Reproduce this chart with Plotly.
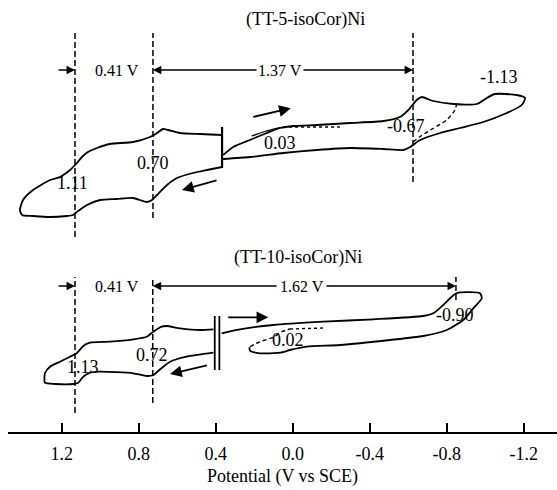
import plotly.graph_objects as go

# ---------------- data (potential in V, current in arbitrary units, offset per CV) -------------
# (TT-5-isoCor)Ni : oxidation loop (positive potentials)
top_ox_E = [0.367, 0.482, 0.585, 0.648, 0.674, 0.705, 0.741, 0.830, 0.950, 1.017, 1.064, 1.095,
            1.121, 1.157, 1.209, 1.261, 1.349, 1.401, 1.417, 1.406,
            1.349, 1.261, 1.173, 1.142, 1.121, 1.069, 1.001, 0.913, 0.830, 0.757, 0.731, 0.705,
            0.653, 0.601, 0.518, 0.445, 0.367]
top_ox_i = [297, 298, 299, 302, 303, 299, 295, 290, 288, 284, 280, 275,
            269, 262, 255, 252, 242, 232, 222, 217,
            216, 215, 216, 217, 220, 227, 232, 233, 234, 230, 232, 237,
            247, 254, 259, 262, 265]
# reduction loop (negative potentials)
top_red_E = [0.361, 0.309, 0.222, 0.135, 0.066, -0.003, -0.125, -0.298, -0.471, -0.557, -0.601,
             -0.644, -0.670, -0.730, -0.834, -0.956, -1.008, -1.051, -1.164, -1.207,
             -1.190, -1.112, -0.990, -0.869, -0.766, -0.662, -0.610, -0.575, -0.471, -0.298,
             -0.125, 0.049, 0.222, 0.364]
top_red_i = [277, 285, 292, 299, 304, 306, 307, 309, 311, 315, 322,
             332, 335, 331, 328, 328, 334, 338, 337, 334,
             327, 319, 310, 304, 299, 292, 285, 282, 283, 284,
             282, 279, 275, 273]
top_part_solid_E = [0.213, 0.144, 0.066]
top_part_solid_i = [296, 300.5, 304.3]
top_part_dot_E = [0.050, -0.245]
top_part_dot_i = [305, 305]
top_rev_E = [-0.852, -0.843, -0.800, -0.730, -0.661, -0.627]
top_rev_i = [328.7, 322, 312, 303.7, 295.3, 290.3]
top_peak_E = [1.131, 0.726, -0.625]
top_peak_lo = [195, 214, 250]
top_peak_hi = [400, 399, 399]
top_bar_E = [0.367]
top_bar_lo, top_bar_hi = 264, 305

# (TT-10-isoCor)Ni
bot_ox_E = [0.412, 0.482, 0.585, 0.655, 0.681, 0.724, 0.758, 0.828, 0.949, 1.053, 1.088, 1.122,
            1.157, 1.209, 1.261, 1.287, 1.287,
            1.235, 1.140, 1.114, 1.088, 1.053, 1.001, 0.828, 0.758, 0.724, 0.689, 0.637,
            0.551, 0.412]
bot_ox_i = [102.7, 102, 103.7, 106, 105.3, 100.3, 95.3, 92.7, 90.3, 89.3, 86, 78.7,
            75.3, 70.3, 65.3, 58.7, 49.3,
            48, 48, 49.3, 55.3, 59.3, 60.3, 58.7, 56, 57, 62.7, 70.3,
            75.3, 79.3]
bot_red_E = [0.369, 0.274, 0.101, -0.159, -0.419, -0.678, -0.730, -0.782, -0.826, -0.860,
             -0.973, -0.982, -0.938, -0.886, -0.800, -0.678, -0.505, -0.246, -0.073, 0.014,
             0.066, 0.170, 0.222, 0.225]
bot_red_i = [98.7, 102.7, 107, 110.3, 112.7, 116, 118.7, 127, 135.3, 139.3,
             138.7, 133.7, 123.7, 112, 102, 96, 92, 87, 85.3, 82,
             79.3, 78.7, 81.3, 84.7]
bot_part_dash_E = [0.222, 0.170, 0.101, 0.057, 0.014]
bot_part_dash_i = [85.3, 90.3, 94.7, 100.3, 103]
bot_part_dot_E = [0.014, -0.168]
bot_part_dot_i = [103, 104]
bot_peak_E = [1.131, 0.727, -0.848]
bot_peak_lo = [19, 29, 132]
bot_peak_hi = [155, 154, 155]
bot_bar_E = [0.405, 0.381]
bot_bar_lo, bot_bar_hi = 62, 116

# text labels: (text, E, i, size)
labels = [
    ("(TT-5-isoCor)Ni", -0.068, 413, 18),
    ("0.41 V", 0.912, 362, 16),
    ("1.37 V", 0.066, 362, 16),
    ("1.11", 1.142, 249, 18),
    ("0.70", 0.726, 269, 18),
    ("0.03", 0.066, 289, 18),
    ("-0.67", -0.587, 306, 18),
    ("-1.13", -1.072, 355, 18),
    ("(TT-10-isoCor)Ni", -0.028, 175, 18),
    ("0.41 V", 0.912, 146, 16),
    ("1.62 V", -0.047, 146, 16),
    ("1.13", 1.092, 65, 18),
    ("0.72", 0.732, 77, 18),
    ("-0.90", -0.843, 117, 18),
    ("0.02", 0.024, 92, 18),
]

# arrows: (head E, head i, tail E, tail i, width, size)
arrows = [
    (1.131, 362, 1.224, 362, 1.4, 1.2),
    (0.726, 362, 0.180, 362, 1.4, 1.2),
    (-0.625, 362, -0.048, 362, 1.4, 1.2),
    (0.010, 323.7, 0.213, 314.7, 1.8, 1.3),
    (0.575, 242, 0.388, 252, 1.8, 1.3),
    (1.131, 146, 1.224, 146, 1.4, 1.2),
    (0.727, 146, 0.076, 146, 1.4, 1.2),
    (-0.848, 146, -0.168, 146, 1.4, 1.2),
    (0.127, 114.7, 0.343, 114.7, 1.8, 1.3),
    (0.637, 58, 0.438, 67, 1.8, 1.3),
]

tick_vals = [1.2, 0.8, 0.4, 0.0, -0.4, -0.8, -1.2]
tick_text = ["1.2", "0.8", "0.4", "0.0", "-0.4", "-0.8", "-1.2"]

FONT = "Liberation Serif, Times New Roman, serif"

fig = go.Figure()


def add_line(E, i, dash="solid", width=1.8, shape="spline"):
    fig.add_trace(go.Scatter(x=E, y=i, mode="lines",
                             line=dict(color="black", width=width, dash=dash,
                                       shape=shape, smoothing=0.6 if shape == "spline" else None),
                             hoverinfo="skip", showlegend=False))


add_line(top_ox_E, top_ox_i)
add_line(top_red_E, top_red_i)
add_line(top_part_solid_E, top_part_solid_i, width=1.3)
add_line(top_part_dot_E, top_part_dot_i, dash="dot", width=1.4, shape="linear")
add_line(top_rev_E, top_rev_i, dash="4px,3px", width=1.4)
add_line(bot_ox_E, bot_ox_i)
add_line(bot_red_E, bot_red_i)
add_line(bot_part_dash_E, bot_part_dash_i, dash="4px,3px", width=1.4)
add_line(bot_part_dot_E, bot_part_dot_i, dash="dot", width=1.4, shape="linear")

for E, lo, hi in zip(top_peak_E, top_peak_lo, top_peak_hi):
    add_line([E, E], [lo, hi], dash="6px,3px", width=1.5, shape="linear")
for E, lo, hi in zip(bot_peak_E, bot_peak_lo, bot_peak_hi):
    add_line([E, E], [lo, hi], dash="6px,3px", width=1.5, shape="linear")
for E in top_bar_E:
    add_line([E, E], [top_bar_lo, top_bar_hi], width=2.2, shape="linear")
for E in bot_bar_E:
    add_line([E, E], [bot_bar_lo, bot_bar_hi], width=1.8, shape="linear")

for txt, E, i, sz in labels:
    fig.add_annotation(x=E, y=i, text=txt, showarrow=False,
                       font=dict(family=FONT, size=sz, color="black"))

for hx, hy, tx, ty, w, s in arrows:
    fig.add_annotation(x=hx, y=hy, ax=tx, ay=ty, axref="x", ayref="y", xref="x", yref="y",
                       text="", showarrow=True, arrowhead=2, arrowsize=s, arrowwidth=w,
                       arrowcolor="black", standoff=0, startstandoff=0)

fig.update_layout(
    width=557, height=490,
    margin=dict(l=8, r=0, t=0, b=58),
    paper_bgcolor="white", plot_bgcolor="white",
    font=dict(family=FONT, color="black", size=18),
    xaxis=dict(range=[1.479, -1.373], tickvals=tick_vals, ticktext=tick_text,
               ticks="inside", ticklen=9, tickwidth=2, tickcolor="black",
               showline=True, linecolor="black", linewidth=1.5,
               showgrid=False, zeroline=False, ticklabelstandoff=5,
               tickfont=dict(family=FONT, size=18),
               title=dict(text="Potential (V vs SCE)", standoff=6,
                          font=dict(family=FONT, size=18))),
    yaxis=dict(range=[0, 432], visible=False),
)

fig.write_html("out.html")
